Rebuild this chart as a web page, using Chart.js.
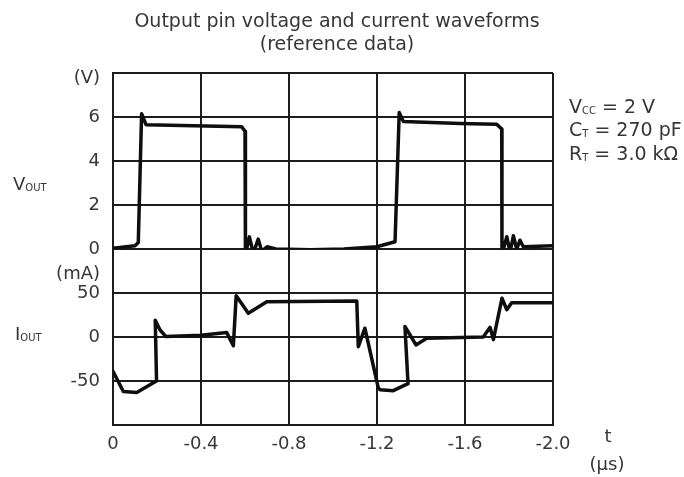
<!DOCTYPE html>
<html>
<head>
<meta charset="utf-8">
<script src="https://cdn.jsdelivr.net/npm/chart.js@4.4.1/dist/chart.umd.min.js"></script>
<style>
  html, body { margin: 0; padding: 0; background: #fff; }
  #c { display: block; }
</style>
</head>
<body>
<canvas id="c" width="684" height="477"></canvas>
<script>
// ---- Data (time in µs, plotted as negative t) ----
const xTicks = [0, -0.4, -0.8, -1.2, -1.6, -2.0];
const vTicks = [0, 2, 4, 6];
const iTicks = [-50, 0, 50];

const timeV = [0, -0.100, -0.115, -0.130, -0.150, -0.585, -0.600, -0.602, -0.620, -0.638, -0.660, -0.676, -0.700, -0.740, -0.900, -1.050, -1.199, -1.282, -1.301, -1.320, -1.577, -1.744, -1.767, -1.768, -1.790, -1.805, -1.820, -1.835, -1.850, -1.865, -2.0];
const voltage = [0.03, 0.15, 0.3, 6.15, 5.65, 5.56, 5.35, -0.25, 0.55, -0.2, 0.45, -0.1, 0.1, 0.0, -0.03, 0.0, 0.1, 0.33, 6.2, 5.8, 5.7, 5.67, 5.45, -0.25, 0.56, -0.15, 0.6, 0.0, 0.4, 0.1, 0.15];

const timeI = [0, -0.047, -0.108, -0.176, -0.198, -0.192, -0.214, -0.241, -0.400, -0.517, -0.547, -0.560, -0.615, -0.699, -1.108, -1.115, -1.145, -1.206, -1.214, -1.274, -1.341, -1.327, -1.377, -1.426, -1.683, -1.714, -1.729, -1.768, -1.790, -1.812, -2.0];
const current = [-39, -62, -63, -53, -50, 19, 8, 0.5, 2, 5, -10, 47, 27, 40, 41, -11, 10, -58, -60, -61, -53, 12, -9, -1.5, 0, 11, -3, 44, 31, 39, 39];

const FONT = "'DejaVu Sans', sans-serif";
const TXT = '#363636';
const GRID = '#1c1c1c';
const LINE = '#0e0e0e';

function subText(ctx, x, baseline, main, sub, rest, size, subSize) {
  ctx.textAlign = 'left';
  ctx.textBaseline = 'alphabetic';
  ctx.font = size + 'px ' + FONT;
  ctx.fillText(main, x, baseline);
  let w = ctx.measureText(main).width;
  ctx.font = subSize + 'px ' + FONT;
  ctx.fillText(sub, x + w, baseline + 1);
  w += ctx.measureText(sub).width;
  if (rest) {
    ctx.font = size + 'px ' + FONT;
    ctx.fillText(rest, x + w, baseline);
  }
}

const textPlugin = {
  id: 'texts',
  afterDraw(chart) {
    const ctx = chart.ctx;
    ctx.save();
    ctx.fillStyle = TXT;
    ctx.textAlign = 'center';
    ctx.textBaseline = 'middle';
    ctx.font = '19px ' + FONT;
    ctx.fillText('Output pin voltage and current waveforms', 337, 22);
    ctx.fillText('(reference data)', 337, 45);

    ctx.font = '18px ' + FONT;
    ctx.textAlign = 'right';
    ctx.fillText('(V)', 100, 78);
    ctx.fillText('(mA)', 100, 274);

    ctx.textAlign = 'center';
    ctx.fillText('t', 608, 437);
    ctx.fillText('(µs)', 607, 465);

    subText(ctx, 13, 190, 'V', 'OUT', '', 18, 10);
    subText(ctx, 15, 340, 'I', 'OUT', '', 18, 10);

    subText(ctx, 569, 113, 'V', 'CC', ' = 2 V', 19, 10);
    subText(ctx, 569, 136, 'C', 'T', ' = 270 pF', 19, 10);
    subText(ctx, 569, 160, 'R', 'T', ' = 3.0 kΩ', 19, 10);
    ctx.restore();
  }
};

const gridCommon = { color: GRID, lineWidth: 2, drawTicks: false };
const borderCommon = { display: true, color: GRID, width: 2 };
const tickFont = { family: FONT, size: 18 };

new Chart(document.getElementById('c'), {
  type: 'line',
  data: {
    datasets: [
      {
        label: 'VOUT',
        data: timeV.map((t, i) => ({ x: t, y: voltage[i] })),
        yAxisID: 'yV',
        borderColor: LINE, borderWidth: 3.5, pointRadius: 0, tension: 0,
        borderJoinStyle: 'round', borderCapStyle: 'round', fill: false
      },
      {
        label: 'IOUT',
        data: timeI.map((t, i) => ({ x: t, y: current[i] })),
        yAxisID: 'yI',
        borderColor: LINE, borderWidth: 3.5, pointRadius: 0, tension: 0,
        borderJoinStyle: 'round', borderCapStyle: 'round', fill: false
      }
    ]
  },
  options: {
    responsive: false,
    animation: false,
    devicePixelRatio: 1,
    layout: { padding: { top: 73, right: 131, left: 0, bottom: 0 } },
    plugins: { legend: { display: false }, tooltip: { enabled: false } },
    scales: {
      x: {
        type: 'linear', min: -2, max: 0, reverse: true,
        afterBuildTicks(s) { s.ticks = xTicks.map(v => ({ value: v })); },
        ticks: {
          color: TXT, font: tickFont, padding: 9, maxRotation: 0,
          callback: v => (v === 0 ? '0' : Number(v).toFixed(1))
        },
        grid: gridCommon, border: borderCommon,
        afterFit(s) { s.height = 52; }
      },
      yI: {
        type: 'linear', position: 'left', stack: 'panels', stackWeight: 1,
        min: -100, max: 100,
        ticks: {
          stepSize: 50, color: TXT, font: tickFont, padding: 13,
          callback: v => (iTicks.includes(v) ? String(v) : '')
        },
        grid: gridCommon, border: borderCommon,
        afterFit(s) { s.width = 113; }
      },
      yV: {
        type: 'linear', position: 'left', stack: 'panels', stackWeight: 1,
        min: 0, max: 8,
        ticks: {
          stepSize: 2, color: TXT, font: tickFont, padding: 13,
          callback: v => (vTicks.includes(v) ? String(v) : '')
        },
        grid: gridCommon, border: borderCommon,
        afterFit(s) { s.width = 113; }
      }
    }
  },
  plugins: [textPlugin]
});
</script>
</body>
</html>
